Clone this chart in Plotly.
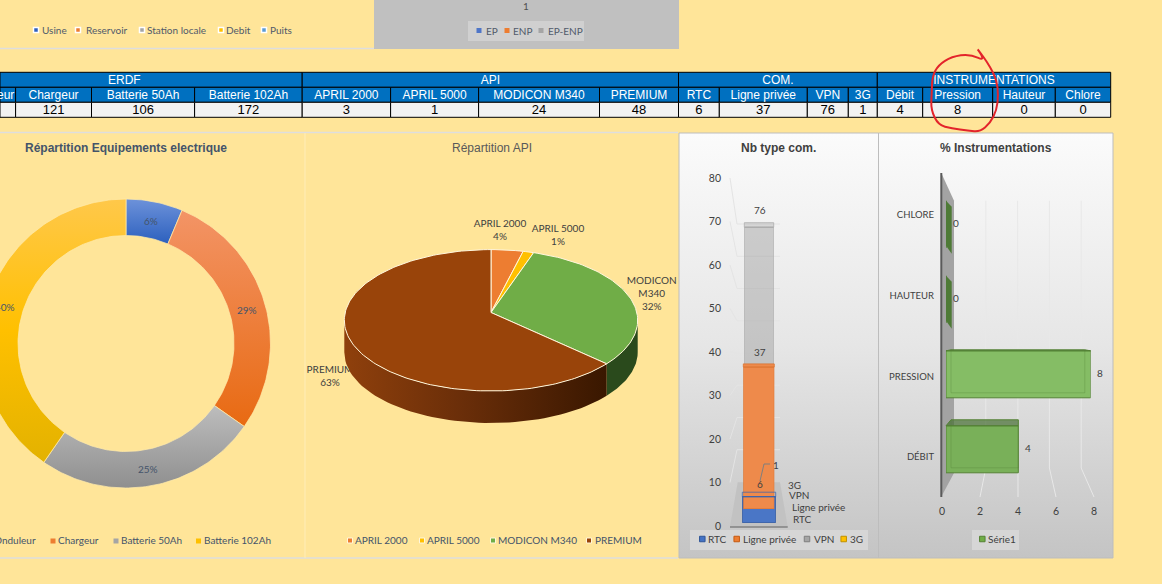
import math
import plotly.graph_objects as go

W, H = 1162, 584

# ---- data ----
erdf_names = ["Onduleur", "Chargeur", "Batterie 50Ah", "Batterie 102Ah"]
erdf_values = [27, 121, 106, 172]
erdf_pct = [6, 29, 25, 40]
api_names = ["APRIL 2000", "APRIL 5000", "MODICON M340", "PREMIUM"]
api_values = [3, 1, 24, 48]
com_names = ["RTC", "Ligne privée", "VPN", "3G"]
com_values = [6, 37, 76, 1]
instr_names = ["Débit", "Pression", "Hauteur", "Chlore"]
instr_values = [4, 8, 0, 0]

group_names = ["ERDF", "API", "COM.", "INSTRUMENTATIONS"]
site_legend = ["Usine", "Reservoir", "Station locale", "Debit", "Puits"]
ep_legend = ["EP", "ENP", "EP-ENP"]
com_ticks = [0, 10, 20, 30, 40, 50, 60, 70, 80]
instr_ticks = [0, 2, 4, 6, 8]

BG = "#FFE599"
SLATE = "#44546A"
TEXT = "#404040"
LATO = "Lato"
ARIAL = "Liberation Sans"


def dom(bottom, top):
    return [1 - bottom / H, 1 - top / H]


def hdom(left, right):
    return [left / W, right / W]


fig = go.Figure()
shapes = []
notes = []


def label(x, y, txt, size=10, color=TEXT, family=LATO, anchor="center", bold=False):
    if bold:
        txt = "<b>" + txt + "</b>"
    # annotations keep a small padding round the text
    shift = {"left": -2, "right": 2, "center": 0}[anchor]
    notes.append(dict(x=x, y=y, xref="x", yref="y", text=txt, showarrow=False, xanchor=anchor, xshift=shift,
                      yanchor="middle", align="center",
                      font=dict(size=size, color=color, family=family)))


def poly(xs, ys, color=None, grad=None, line_color=None, line_width=0):
    tr = go.Scatter(x=list(xs) + [xs[0]], y=list(ys) + [ys[0]], mode="lines", fill="toself",
                    line=dict(width=line_width, color=line_color or "rgba(0,0,0,0)"),
                    hoverinfo="skip", showlegend=False, xaxis="x", yaxis="y")
    if grad:
        tr.fillgradient = grad
    else:
        tr.fillcolor = color
    fig.add_trace(tr)


def vgrad(stops, top, bottom):
    n = len(stops) - 1
    return dict(type="vertical", start=top, stop=bottom,
                colorscale=[[i / n, c] for i, c in enumerate(stops)])


def swatch(x, y, color, size=5, edge="white", edge_w=1):
    s = size / 2
    shapes.append(dict(type="rect", xref="x", yref="y", x0=x - s, x1=x + s, y0=y - s, y1=y + s,
                       fillcolor=color, line=dict(color=edge, width=edge_w), layer="above"))


# ---- frames and grey panels ----
def rect_shape(x0, y0, x1, y1, fill, line=None, layer="below"):
    shapes.append(dict(type="rect", xref="x", yref="y", x0=x0, x1=x1, y0=y0, y1=y1, fillcolor=fill,
                       line=dict(color=line or "rgba(0,0,0,0)", width=1 if line else 0), layer=layer))


def hline(x0, x1, y, color="#DEDEDE", w=1.5):
    shapes.append(dict(type="line", xref="x", yref="y", x0=x0, x1=x1, y0=y, y1=y,
                       line=dict(color=color, width=w), layer="below"))


hline(0, 374, 48.5)
hline(0, 678, 132.5)
hline(0, 678, 558)
shapes.append(dict(type="line", xref="x", yref="y", x0=305, x1=305, y0=133, y1=558,
                   line=dict(color="#FFEDB8", width=1), layer="below"))
rect_shape(374, 0, 679, 49, "#C0C0C0")
rect_shape(468, 21, 584, 41, "#D0D0D0")
label(526, 6, "1", 10, "#505050")

panel_stops = ["#FBFBFB", "#E6E6E6", "#C4C4C4"]
for x0, x1 in [(679, 878.5), (878.5, 1113)]:
    poly([x0, x1, x1, x0], [133, 133, 558, 558], grad=vgrad(panel_stops, 133, 558),
         line_color="#BDBDBD", line_width=1)
rect_shape(690, 530, 868, 550, "#D6D6D6", layer="above")
rect_shape(972, 530, 1019, 550, "#D6D6D6", layer="above")

# top legends
site_colors = ["#2F5FBF", "#ED7D31", "#A5A5A5", "#FFC000", "#5B9BD5"]
for name, sx, tx, c in zip(site_legend, [36, 78, 142, 221, 264], [42, 86, 147, 226, 270], site_colors):
    swatch(sx, 30, c, 5, "white", 1.5)
    label(tx, 30, name, 10, "#505A6A", anchor="left")
for name, sx, tx, c in zip(ep_legend, [479, 507, 541], [486, 513, 548], ["#4F76C8", "#ED7D31", "#A5A5A5"]):
    swatch(sx, 30.5, c, 5, "rgba(0,0,0,0)", 0)
    label(tx, 30.5, name, 10, "#505A6A", anchor="left")

# ---- doughnut, drawn on the pixel axes so it can run off the left edge ----
D_CX, D_CY, D_R, D_r = 126, 343.5, 144.5, 108
d_total = sum(erdf_values)
d_grads = [["#6D92DA", "#2C60BE"], ["#F39466", "#E86A12"], ["#BDBDBD", "#8F8F8F"], ["#FFC84A", "#FFC000", "#E3B200"]]
acc = 0
for val, stops, pct in zip(erdf_values, d_grads, erdf_pct):
    a0 = acc / d_total * 2 * math.pi
    acc += val
    a1 = acc / d_total * 2 * math.pi
    steps = max(3, int((a1 - a0) * 50))
    angs = [a0 + (a1 - a0) * i / steps for i in range(steps + 1)]
    xs = [D_CX + D_R * math.sin(a) for a in angs] + [D_CX + D_r * math.sin(a) for a in reversed(angs)]
    ys = [D_CY - D_R * math.cos(a) for a in angs] + [D_CY - D_r * math.cos(a) for a in reversed(angs)]
    poly(xs, ys, grad=vgrad(stops, min(ys), max(ys)), line_color="#FFE9A8", line_width=0.75)
    mid = (a0 + a1) / 2
    rm = (D_R + D_r) / 2
    label(D_CX + rm * math.sin(mid), D_CY - rm * math.cos(mid) + 1, "%d%%" % pct, 10, SLATE)

label(125.5, 147.5, "Répartition Equipements electrique", 12, SLATE, ARIAL, bold=True)
for name, tx, c, anchor in zip(erdf_names, [36, 58, 121, 203.5], ["#4472C4", "#ED7D31", "#A5A5A5", "#FFC000"],
                               ["right", "left", "left", "left"]):
    label(tx, 540, name, 10, SLATE, anchor=anchor)
    if anchor == "left":
        swatch(tx - 5, 541, c, 5, "rgba(0,0,0,0)", 0)

# ---- tilted pie ----
P_CX, P_CY, P_RX, P_RY = 491, 320.3, 146.7, 70.7
APEX_Y = 312.5
DEPTH = 32
SQUASH = P_RY / P_RX


def rim(phi):
    return P_CX + P_RX * math.sin(phi), P_CY - P_RY * math.cos(phi)


def ray_to_rim(theta):
    # the slice angle is taken round the apex, which sits above the middle of the ellipse
    dx, dy = math.sin(theta), -math.cos(theta) * SQUASH
    off = APEX_Y - P_CY
    a = (dx / P_RX) ** 2 + (dy / P_RY) ** 2
    b = 2 * dy * off / P_RY ** 2
    c = (off / P_RY) ** 2 - 1
    t = (-b + math.sqrt(b * b - 4 * a * c)) / (2 * a)
    x, y = dx * t, off + dy * t
    phi = math.atan2(x / P_RX, -y / P_RY)
    return phi if phi >= 0 else phi + 2 * math.pi


p_total = sum(api_values)
edges = [0]
for v in api_values:
    edges.append(edges[-1] + v)
phis = [ray_to_rim(e / p_total * 2 * math.pi) for e in edges[:-1]] + [2 * math.pi]

# labels sit under the pie, as PREMIUM is cut by the wall
pct = ["%d%%" % round(100 * v / p_total) for v in api_values]
fig.add_trace(go.Scatter(
    x=[500, 558, 651.7, 330], y=[231, 236, 294, 377], mode="text",
    text=[api_names[0] + "<br>" + pct[0], api_names[1] + "<br>" + pct[1],
          "MODICON<br>M340<br>" + pct[2], api_names[3] + "<br>" + pct[3]],
    textfont=dict(size=10, color=TEXT, family=LATO), hoverinfo="skip", showlegend=False,
    xaxis="x", yaxis="y"))

p_sides = [None, None,
           dict(type="horizontal", start=606, stop=638, colorscale=[[0, "#2A4A1C"], [1, "#2A4A1C"]]),
           dict(type="horizontal", start=344, stop=607,
                colorscale=[[0, "#8F400C"], [0.45, "#6A2E09"], [1, "#391700"]])]
for i, grad in enumerate(p_sides):
    if grad is None:
        continue
    lo = max(phis[i], math.pi / 2)
    hi = min(phis[i + 1], 1.5 * math.pi)
    angs = [lo + (hi - lo) * k / 60 for k in range(61)]
    pts = [rim(a) for a in angs]
    poly([p[0] for p in pts] + [p[0] for p in reversed(pts)],
         [p[1] for p in pts] + [p[1] + DEPTH for p in reversed(pts)], grad=grad)

p_colors = ["#ED7D31", "#FFC000", "#70AD47", "#99440A"]
for i, c in enumerate(p_colors):
    steps = max(4, int((phis[i + 1] - phis[i]) * 40))
    pts = [rim(phis[i] + (phis[i + 1] - phis[i]) * k / steps) for k in range(steps + 1)]
    poly([P_CX] + [p[0] for p in pts], [APEX_Y] + [p[1] for p in pts], color=c,
         line_color="#FFF6DC", line_width=1)

label(491.5, 147.5, "Répartition API", 12, "#595959", ARIAL)
for name, sx, tx, c in zip(api_names, [350, 422, 493, 589], [355, 427, 498, 595], p_colors):
    swatch(sx, 540.5, c, 5, "#FFF6DC", 1)
    label(tx, 540, name, 10, SLATE, anchor="left")

# ---- Nb type com. : grid and floor ----
label(778.5, 147.5, "Nb type com.", 12, TEXT, ARIAL, bold=True)


def com_front(v):
    return 526 - 4.35 * v


def com_back(v):
    return 482 - 3.225 * v


gx, gy = [], []
for v in com_ticks[1:]:
    gx += [730, 737, 780, None]
    gy += [com_front(v), com_back(v), com_back(v), None]
fig.add_trace(go.Scatter(x=gx, y=gy, mode="lines", line=dict(color="#E4E4E4", width=1), hoverinfo="skip",
                         showlegend=False, xaxis="x", yaxis="y"))
poly([737.7, 780, 787.7, 730], [482.3, 482.3, 526.7, 526.7], color="#C2C2C2")
shapes.append(dict(type="line", xref="x", yref="y", x0=730, x1=787.7, y0=527, y1=527,
                   line=dict(color="#808080", width=1.5), layer="above"))
for name, x, y in zip(com_names, [802, 818, 799, 794], [519, 507, 495, 485]):
    label(x, y, name, 10, TEXT)

# visible value axis
fig.add_trace(go.Scatter(x=[0], y=com_ticks[:1], mode="markers", marker=dict(opacity=0), hoverinfo="skip",
                         showlegend=False, xaxis="x2", yaxis="y2"))

# each depth row has its own hidden axis pair because the perspective shrinks it
com_rows = {
    "RTC": dict(base=522.7, scale=4.33, x0=742.3, x1=775.7, face=4.5),
    "Ligne privée": dict(base=509, scale=3.84, x0=743.3, x1=774.3, face=3),
    "VPN": dict(base=497, scale=3.55, x0=744.3, x1=773.7, face=4.5),
    "3G": dict(base=487, scale=3.3, x0=745, x1=773, face=0),
}
com_styles = {
    "RTC": ("#4A76C6", "#2F5597"),
    "Ligne privée": ("#EE8A4B", "#D9722E"),
    "VPN": ("rgba(150,150,150,0.42)", "#A6A6A6"),
    "3G": ("#FFC000", "#BF9000"),
}
layout_axes = {}
order = ["3G", "VPN", "RTC", "Ligne privée"]
for n, name in enumerate(order):
    idx = n + 3
    row = com_rows[name]
    layout_axes["xaxis%d" % idx] = dict(domain=hdom(row["x0"], row["x1"]), range=[-0.5, 0.5], visible=False,
                                        anchor="y%d" % idx, fixedrange=True)
    layout_axes["yaxis%d" % idx] = dict(domain=dom(row["base"], row["base"] - 80 * row["scale"]), range=[0, 80],
                                        visible=False, anchor="x%d" % idx, fixedrange=True)
    value = com_values[com_names.index(name)]
    fig.add_trace(go.Bar(x=[0], y=[value], width=1, name=name, marker=dict(color=com_styles[name][0],
                         line=dict(color=com_styles[name][1], width=1)), hoverinfo="skip", showlegend=False,
                         xaxis="x%d" % idx, yaxis="y%d" % idx))

# RTC outline shows through the orange bar
fig.add_trace(go.Bar(x=[0], y=com_values[:1], width=1, marker=dict(color="rgba(0,0,0,0)",
                     line=dict(color="#3D64AC", width=1.2)), hoverinfo="skip", showlegend=False,
                     xaxis="x7", yaxis="y7"))
layout_axes["xaxis7"] = dict(domain=hdom(com_rows["RTC"]["x0"], com_rows["RTC"]["x1"]), range=[-0.5, 0.5],
                             visible=False, anchor="y7", fixedrange=True)
layout_axes["yaxis7"] = dict(domain=dom(522.7, 522.7 - 80 * 4.33), range=[0, 80], visible=False, anchor="x7",
                             fixedrange=True)

# top faces of the bars and their value labels
for name, value in zip(com_names, com_values):
    row = com_rows[name]
    top = row["base"] - value * row["scale"]
    if name == "3G":
        continue
    face = {"RTC": "#3D64AC", "Ligne privée": "#D9722E", "VPN": "#ABABAB"}[name]
    face_fill = {"RTC": "rgba(0,0,0,0)", "Ligne privée": "#EE8A4B", "VPN": "rgba(150,150,150,0.3)"}[name]
    shapes.append(dict(type="path", xref="x", yref="y", layer="above",
                       path="M %.1f %.1f L %.1f %.1f L %.1f %.1f L %.1f %.1f Z" % (
                           row["x0"], top, row["x0"], top - row["face"], row["x1"], top - row["face"], row["x1"], top),
                       fillcolor=face_fill, line=dict(color=face, width=0.75)))
    label(759.5, top - {"RTC": 13, "Ligne privée": 15, "VPN": 17}[name], str(value), 10, TEXT)
label(776, 464.5, str(com_values[3]), 10, TEXT)
shapes.append(dict(type="path", xref="x", yref="y", layer="above", path="M 760 481 L 764 464 L 770 464",
                   line=dict(color="#7F7F7F", width=1)))

for name, sx, tx, c in zip(com_names, [702.3, 736.7, 807, 843.7], [708.3, 742.7, 814, 850],
                           ["#4472C4", "#ED7D31", "#A5A5A5", "#FFC000"]):
    edge = {"#4472C4": "#2F5597", "#ED7D31": "#C55A11", "#A5A5A5": "#7F7F7F", "#FFC000": "#BF9000"}[c]
    swatch(sx, 539, c, 5.5, edge, 1)
    label(tx, 539, name, 10, TEXT, anchor="left")

# ---- % Instrumentations ----
label(995.5, 147.5, "% Instrumentations", 12, TEXT, ARIAL, bold=True)
poly([941.3, 954, 954, 941.3], [173, 200.7, 473, 496.7], color="#A3A3A3")
shapes.append(dict(type="line", xref="x", yref="y", x0=941.3, x1=941.3, y0=173, y1=497,
                   line=dict(color="#5A5A5A", width=2), layer="above"))


def instr_back(v):
    return 954 + 15.9 * v


def instr_front(v):
    return 942 + 19 * v


gx, gy = [], []
for v in instr_ticks[1:]:
    gx += [instr_back(v), instr_back(v), instr_front(v), None]
    gy += [200.7, 468, 497, None]
fig.add_trace(go.Scatter(x=gx, y=gy, mode="lines", line=dict(color="#E8E8E8", width=1), hoverinfo="skip",
                         showlegend=False, xaxis="x", yaxis="y"))

fig.add_trace(go.Scatter(x=instr_ticks[:1], y=instr_names[:1], mode="markers", marker=dict(opacity=0),
                         hoverinfo="skip", showlegend=False, xaxis="x8", yaxis="y8"))
fig.add_trace(go.Bar(x=instr_values, y=instr_names, orientation="h", width=0.627, name="Série1",
                     marker=dict(color=["#79B059", "#85BD65", "#79B059", "#79B059"],
                                 line=dict(color="#548235", width=1)),
                     hoverinfo="skip", showlegend=False, xaxis="x9", yaxis="y9"))

BAR_X0, BAR_UNIT = 946, 18.08
BAR_C0, BAR_STEP, BAR_HALF = 449.3, 75, 23.5
back_dy = [-6, -1, 6, 6]
for i, v in enumerate(instr_values):
    c = BAR_C0 - i * BAR_STEP
    t, b = c - BAR_HALF, c + BAR_HALF
    dy = back_dy[i]
    x1 = BAR_X0 + v * BAR_UNIT
    label(x1 + 9.5, c - 1, str(v), 10, TEXT)
    if v == 0:
        shapes.append(dict(type="path", xref="x", yref="y", layer="above", fillcolor="#4E7A36",
                           line=dict(width=0),
                           path="M %.1f %.1f L %.1f %.1f L %.1f %.1f L %.1f %.1f Z" % (
                               BAR_X0, t, BAR_X0 + 5.7, t + dy, BAR_X0 + 5.7, b + dy, BAR_X0, b - 2)))
    else:
        bx1 = x1 - (x1 - 1018) * 0.08
        shapes.append(dict(type="path", xref="x", yref="y", layer="above", fillcolor="rgba(70,110,50,0.7)",
                           line=dict(color="#548235", width=1),
                           path="M %.1f %.1f L %.1f %.1f L %.1f %.1f L %.1f %.1f Z" % (
                               BAR_X0, t, BAR_X0 + 5, t + dy, bx1, t + dy, x1, t)))
        shapes.append(dict(type="path", xref="x", yref="y", layer="above", fillcolor="rgba(0,0,0,0)",
                           line=dict(color="rgba(84,130,53,0.3)", width=1),
                           path="M %.1f %.1f L %.1f %.1f L %.1f %.1f M %.1f %.1f L %.1f %.1f" % (
                               BAR_X0 + 5, t + dy, BAR_X0 + 5, b - 5, bx1, b - 5, bx1, t + dy, bx1, b - 5)))

swatch(982.3, 539, "#70AD47", 5.5, "#548235", 1)
label(988, 539, "Série1", 10, TEXT, anchor="left")

# ---- table ----
col_edges = [0, 15.6, 91.5, 194.6, 302.2, 390.6, 478.6, 599.5, 678.5, 719.3, 807.3, 848.3, 877.3, 922.7,
             992.7, 1055.3, 1110.7]
group_edges = [0, 302.2, 678.5, 877.3, 1110.7]
ROW_Y = [72.3, 87.3, 102.3, 117.3]

headers = erdf_names + api_names + com_names + instr_names
values = erdf_values + api_values + com_values + instr_values

for e0, e1 in zip(group_edges, group_edges[1:]):
    rect_shape(e0, ROW_Y[0], e1, ROW_Y[1], "#0070C0", "black")
for e0, e1 in zip(col_edges, col_edges[1:]):
    rect_shape(e0, ROW_Y[1], e1, ROW_Y[2], "#0070C0", "black")
    rect_shape(e0, ROW_Y[2], e1, ROW_Y[3], "#F2F2F2", "black")

mids = [(a + b) / 2 for a, b in zip(col_edges, col_edges[1:])]
group_mids = [(a + b) / 2 for a, b in zip(group_edges, group_edges[1:])]
fig.add_trace(go.Scatter(x=group_mids[1:] + mids[1:], y=[81] * 3 + [96] * (len(mids) - 1), mode="text",
                         text=group_names[1:] + headers[1:], textposition="middle center",
                         textfont=dict(family=ARIAL, size=12, color="white"), hoverinfo="skip",
                         showlegend=False, xaxis="x", yaxis="y"))
fig.add_trace(go.Scatter(x=mids[1:], y=[111] * (len(mids) - 1), mode="text", text=values[1:],
                         textposition="middle center", textfont=dict(family=ARIAL, size=13, color="black"),
                         hoverinfo="skip", showlegend=False, xaxis="x", yaxis="y"))
# the first column and ERDF are centred on spans that start off the page
label(124.6, 80, group_names[0], 12, "white", ARIAL)
label(14, 95, headers[0], 12, "white", ARIAL, anchor="right")

# hand drawn red ring over the table
ring = [(188, 28), (215, 65), (165, 42), (110, 50), (70, 75), (52, 110), (50, 160), (48, 210), (70, 255), (110, 265),
        (160, 272), (195, 275), (225, 250), (245, 210), (250, 165), (245, 120), (225, 80), (205, 50), (188, 28)]
ring = [(915 + p[0] / 3, 40 + p[1] / 3) for p in ring]
path = "M %.1f %.1f" % ring[0]
for a, b in zip(ring[1:-1], ring[2:]):
    path += " Q %.1f %.1f %.1f %.1f" % (a[0], a[1], (a[0] + b[0]) / 2, (a[1] + b[1]) / 2)
path += " L %.1f %.1f" % ring[-1]
shapes.append(dict(type="path", xref="x", yref="y", layer="above", path=path, line=dict(color="#E3242B", width=2)))

tick_font = dict(size=10.5, color=TEXT, family=LATO)
fig.update_layout(
    template="none",
    width=W, height=H, margin=dict(l=0, r=0, t=0, b=0, autoexpand=False), autosize=False,
    paper_bgcolor=BG, plot_bgcolor="rgba(0,0,0,0)", showlegend=False, hovermode=False,
    xaxis=dict(domain=[0, 1], range=[0, W], visible=False, fixedrange=True),
    yaxis=dict(domain=[0, 1], range=[H, 0], visible=False, fixedrange=True),
    xaxis2=dict(domain=hdom(730, 780), range=[0, 1], visible=False, anchor="y2", fixedrange=True),
    yaxis2=dict(domain=dom(526, 178), range=[0, 80], tickvals=com_ticks, showgrid=False, zeroline=False,
                showline=False, anchor="free", position=721 / W, side="left", tickfont=tick_font, fixedrange=True),
    xaxis8=dict(domain=hdom(942, 1094), range=[0, 8], tickvals=instr_ticks, showgrid=False, zeroline=False,
                showline=False, anchor="free", position=1 - 503 / H, tickfont=tick_font, fixedrange=True),
    yaxis8=dict(domain=dom(497.35, 174.6), range=[-0.5, 3.5], type="category", categoryorder="array",
                categoryarray=instr_names, tickvals=instr_names, ticktext=[n.upper() for n in instr_names],
                showgrid=False, zeroline=False, showline=False, anchor="free", position=934 / W, side="left",
                tickfont=dict(size=9.5, color=TEXT, family=LATO), fixedrange=True),
    xaxis9=dict(domain=hdom(BAR_X0, BAR_X0 + 8 * BAR_UNIT), range=[0, 8], visible=False, anchor="y9", fixedrange=True),
    yaxis9=dict(domain=dom(BAR_C0 + BAR_STEP / 2, BAR_C0 - 3.5 * BAR_STEP), range=[-0.5, 3.5], type="category",
                categoryorder="array", categoryarray=instr_names, visible=False, anchor="x9", fixedrange=True),
    shapes=shapes, annotations=notes,
)
fig.update_layout(**layout_axes)

# the default page keeps the browser's 8px body margin
fig.write_html("out.html", config={"displayModeBar": False}, post_script="document.body.style.margin='0';")
